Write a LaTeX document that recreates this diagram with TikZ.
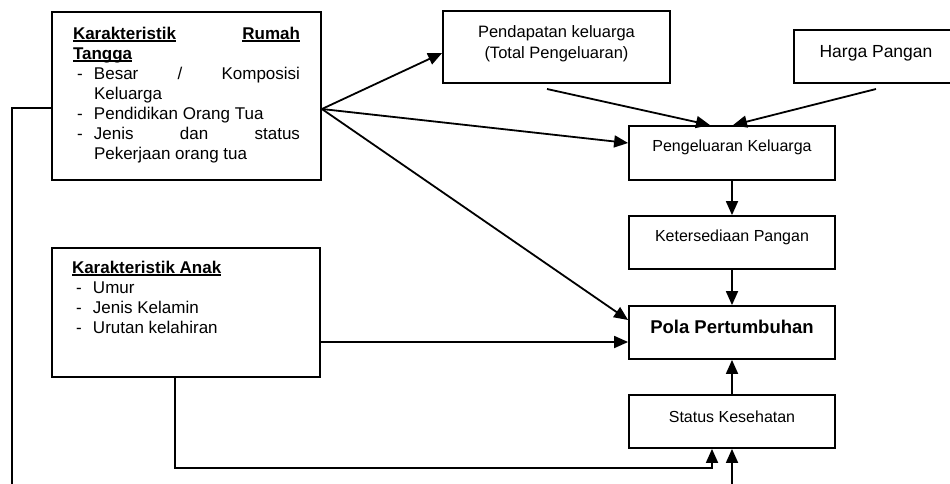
\documentclass[tikz,border=0pt]{standalone}
\usepackage{fontspec}
\setmainfont{Liberation Sans}
\usetikzlibrary{arrows.meta,calc}
\newsavebox{\myulbox}
\newcommand{\myul}[1]{\sbox{\myulbox}{#1}\rlap{\rule[-2.5pt]{\wd\myulbox}{1.3pt}}\usebox{\myulbox}}
\newcommand{\dashit}{\makebox[21pt][l]{\hspace{4pt}-}}
\newcommand{\lsize}{\fontsize{17}{20}\selectfont}
\begin{document}
\begin{tikzpicture}[x=1pt,y=-1pt,line width=1.8pt,
  box/.style={draw,rectangle,inner sep=0pt,line width=1.8pt},
  txt/.style={inner sep=0pt,outer sep=0pt},
  conn/.style={line width=1.8pt},
  arr/.style={line width=1.8pt,-{Triangle[length=14pt,width=12pt]}}]
\useasboundingbox (0,0) rectangle (950,483);
% boxes
\node[box,minimum width=269pt,minimum height=168pt] (rt) at (186.5,96) {};
\node[box,minimum width=268pt,minimum height=129pt] (anak) at (186,312.5) {};
\node[box,minimum width=227pt,minimum height=72pt] (pend) at (556.5,47) {};
\node[box,minimum width=164pt,minimum height=53pt] (harga) at (876,56.5) {};
\node[box,minimum width=206pt,minimum height=54pt] (pk) at (732,153) {};
\node[box,minimum width=206pt,minimum height=53pt] (keter) at (732,242.5) {};
\node[box,minimum width=206pt,minimum height=53pt] (pola) at (732,332.5) {};
\node[box,minimum width=206pt,minimum height=53pt] (status) at (732,421.5) {};
% texts
\node[txt,anchor=north west] (rttext) at (73,25) {\lsize\vbox{%
  \hbox to 227pt{\strut\textbf{\myul{Karakteristik}\hfill\myul{Rumah}}}%
  \hbox to 227pt{\strut\textbf{\myul{Tangga}}\hfill}%
  \hbox to 227pt{\strut\dashit Besar\hfill/\hfill Komposisi}%
  \hbox to 227pt{\strut\hspace{21pt}Keluarga\hfill}%
  \hbox to 227pt{\strut\dashit Pendidikan Orang Tua\hfill}%
  \hbox to 227pt{\strut\dashit Jenis\hfill dan\hfill status}%
  \hbox to 227pt{\strut\hspace{21pt}Pekerjaan orang tua\hfill}}};
\node[txt,anchor=north west] (anaktext) at (72,259) {\lsize\vbox{%
  \hbox{\strut\textbf{\myul{Karakteristik Anak}}}%
  \hbox{\strut\dashit Umur}%
  \hbox{\strut\dashit Jenis Kelamin}%
  \hbox{\strut\dashit Urutan kelahiran}}};
\node[txt,anchor=base] (pendtext1) at (556.5,37) {\fontsize{16.5}{20}\selectfont Pendapatan keluarga};
\node[txt,anchor=base] (pendtext2) at (556.5,58) {\fontsize{16.5}{20}\selectfont (Total Pengeluaran)};
\node[txt,anchor=base] (hargatext) at (876,57.5) {\fontsize{17.5}{20}\selectfont Harga Pangan};
\node[txt,anchor=base] (pktext) at (732,151) {\fontsize{16}{20}\selectfont Pengeluaran Keluarga};
\node[txt,anchor=base] (ketertext) at (732,241) {\fontsize{16}{20}\selectfont Ketersediaan Pangan};
\node[txt,anchor=base] (polatext) at (732,333.5) {\fontsize{18.5}{20}\selectfont\bfseries Pola Pertumbuhan};
\node[txt,anchor=base] (statustext) at (732,422) {\fontsize{16}{20}\selectfont Status Kesehatan};
% coordinates
\coordinate (lb) at (12,490);
\coordinate (fan) at ($(rt.east)+(0,13)$);
\coordinate (ae) at ($(anak.east)+(0,29.5)$);
\coordinate (p1) at (547,89);
\coordinate (h1) at (876,89);
\coordinate (st1) at ($(status.south)+(-20,0)$);
\coordinate (bot) at (732,490);
% connectors
\draw[conn] ($(rt.west)+(0,12)$) -| (lb);
\draw[arr] (fan) -- ($(pend.west)+(0,6)$);
\draw[arr] (fan) -- ($(pk.west)+(0,-10)$);
\draw[arr] (fan) -- ($(pola.west)+(0,-12.5)$);
\draw[arr] (ae) -- (ae -| pola.west);
\draw[arr] (p1) -- ($(pk.north)+(-22,0)$);
\draw[arr] (h1) -- ($(pk.north)+(1,0)$);
\draw[arr] (pk.south) -- (keter.north);
\draw[arr] (keter.south) -- (pola.north);
\draw[arr] (status.north) -- (pola.south);
\draw[arr] ($(anak.south)+(-11,0)$) |- ($(st1)+(0,19)$) -- (st1);
\draw[arr] (bot) -- (status.south);
\end{tikzpicture}
\end{document}
